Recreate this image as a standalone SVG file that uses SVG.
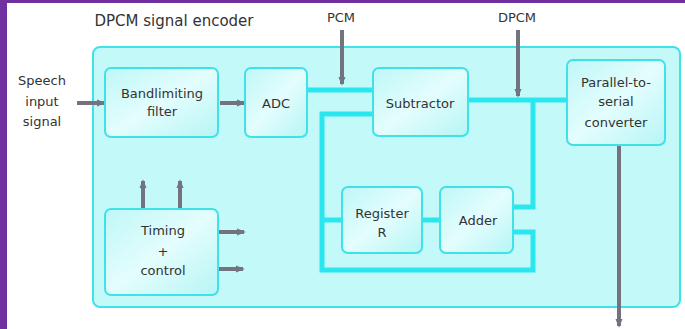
<svg xmlns="http://www.w3.org/2000/svg" width="685" height="329" viewBox="0 0 685 329">
<defs>
<style>
.t{font-family:"DejaVu Sans","Liberation Sans",sans-serif;font-size:13px;fill:#333333;text-anchor:middle;dominant-baseline:central}
.title{font-size:15px}
.box{fill:url(#g);stroke:#3ee2e8;stroke-width:2}
.cy{fill:none;stroke:#2ae6ee;stroke-width:5;stroke-linejoin:miter}
.gr{fill:none;stroke:#737380;stroke-width:4}
</style>
<linearGradient id="g" x1="0" y1="0" x2="1" y2="1">
<stop offset="0" stop-color="#bff7f7"/>
<stop offset="0.5" stop-color="#e4fdfd"/>
<stop offset="1" stop-color="#b6f5f5"/>
</linearGradient>
<marker id="ah" viewBox="0 0 10 10" refX="8" refY="5" markerUnits="userSpaceOnUse" markerWidth="9" markerHeight="9" orient="auto">
<path d="M0,1 L10,5 L0,9 Z" fill="#737380"/>
</marker>
</defs>
<rect width="685" height="329" fill="#ffffff"/>
<rect x="0" y="0" width="685" height="3" fill="#7030a0"/>
<rect x="0" y="0" width="7" height="329" fill="#7030a0"/>
<g id="encoder">
<rect x="93" y="47" width="587" height="260" rx="7" fill="#c4f9f9" stroke="#3ee2e8" stroke-width="2"/>
<text class="t title" x="174" y="21">DPCM signal encoder</text>
</g>
<g id="connectors">
<path class="cy" d="M307,90 H373"/>
<path class="cy" d="M373,114 H322 V270 H533 V232 H513"/>
<path class="cy" d="M322,220 H342 M422,220 H440"/>
<path class="cy" d="M513,207 H533 V100"/>
<path class="cy" d="M468,100 H567"/>
<path class="gr" d="M342,30 V84" marker-end="url(#ah)"/>
<path class="gr" d="M518,30 V96" marker-end="url(#ah)"/>
<path class="gr" d="M619,146 V326" marker-end="url(#ah)"/>
<path class="gr" d="M77,103 H104" marker-end="url(#ah)"/>
<path class="gr" d="M220,103 H244" marker-end="url(#ah)"/>
<path class="gr" d="M143,209 V181" marker-end="url(#ah)"/>
<path class="gr" d="M180,209 V181" marker-end="url(#ah)"/>
<path class="gr" d="M219,232 H244" marker-end="url(#ah)"/>
<path class="gr" d="M219,269 H243" marker-end="url(#ah)"/>
</g>
<g id="labels">
<text class="t" x="42" y="80">Speech</text>
<text class="t" x="42" y="101">input</text>
<text class="t" x="42" y="121">signal</text>
<text class="t" x="341" y="17">PCM</text>
<text class="t" x="517" y="17">DPCM</text>
</g>
<g id="filter">
<rect class="box" x="105" y="68" width="113" height="69" rx="6"/>
<text class="t" x="162" y="93">Bandlimiting</text>
<text class="t" x="162" y="111">filter</text>
</g>
<g id="adc">
<rect class="box" x="245" y="68" width="62" height="69" rx="6"/>
<text class="t" x="276" y="103">ADC</text>
</g>
<g id="subtractor">
<rect class="box" x="373" y="68" width="95" height="68" rx="6"/>
<text class="t" x="420" y="103">Subtractor</text>
</g>
<g id="converter">
<rect class="box" x="567" y="60" width="98" height="85" rx="6"/>
<text class="t" x="616" y="82">Parallel-to-</text>
<text class="t" x="616" y="101">serial</text>
<text class="t" x="616" y="122">converter</text>
</g>
<g id="timing">
<rect class="box" x="105" y="209" width="113" height="86" rx="6"/>
<text class="t" x="163" y="230">Timing</text>
<text class="t" x="163" y="251">+</text>
<text class="t" x="163" y="270">control</text>
</g>
<g id="register">
<rect class="box" x="342" y="187" width="80" height="66" rx="6"/>
<text class="t" x="382" y="213">Register</text>
<text class="t" x="382" y="232">R</text>
</g>
<g id="adder">
<rect class="box" x="440" y="187" width="73" height="66" rx="6"/>
<text class="t" x="478" y="220">Adder</text>
</g>
</svg>
